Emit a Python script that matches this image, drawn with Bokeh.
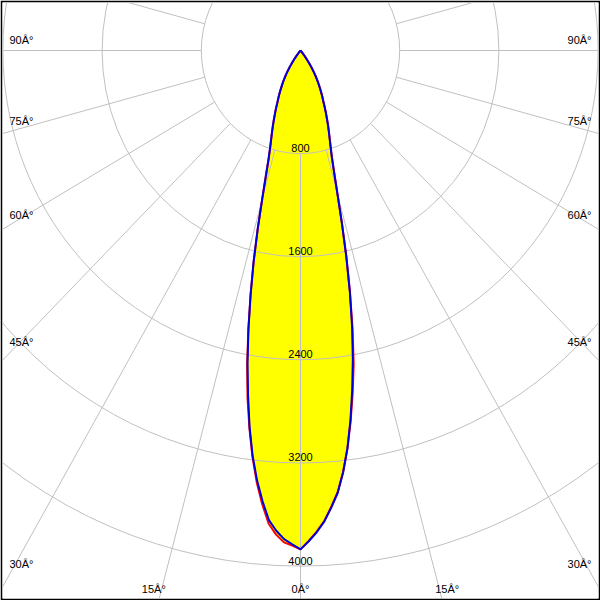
import numpy as np
from bokeh.plotting import figure
from bokeh.models import Range1d
from bokeh.core.properties import value
from bokeh.embed import file_html
from bokeh.resources import INLINE

# ---- data (luminous intensity in cd vs. gamma angle in degrees) ----
gamma = [0, 1, 2, 3, 4, 5, 6, 7, 8, 9, 10, 11, 12, 13, 14, 15, 16, 17, 18, 19,
         20, 21, 22, 23, 24, 25, 26, 27, 28, 29, 30, 31, 32, 33, 34, 35, 36,
         37, 38, 39, 40, 42, 45, 50, 60, 70, 80, 90]
blue_right = [3870, 3808, 3740, 3660, 3555, 3444, 3290, 3108, 2895, 2665, 2430,
              2180, 1915, 1645, 1380, 1150, 985, 865, 785, 722,
              668, 618, 568, 522, 478, 436, 404, 370, 338, 308, 278, 248, 218,
              188, 158, 128, 100, 75, 52, 32, 16, 4, 0, 0, 0, 0, 0, 0]
blue_left = [3870, 3831, 3793, 3731, 3652, 3511, 3353, 3168, 2950, 2705, 2460,
             2200, 1935, 1680, 1425, 1195, 1015, 880, 792, 726,
             670, 619, 569, 523, 479, 437, 405, 371, 339, 309, 279, 249, 219,
             189, 159, 129, 101, 76, 53, 33, 17, 4, 0, 0, 0, 0, 0, 0]
red_right = [3870, 3805, 3735, 3655, 3550, 3440, 3288, 3108, 2905, 2690, 2470,
             2200, 1920, 1645, 1380, 1150, 986, 866, 786, 723,
             669, 619, 569, 523, 479, 437, 405, 371, 339, 309, 279, 249, 219,
             189, 159, 129, 101, 76, 53, 33, 17, 4, 0, 0, 0, 0, 0, 0]
red_left = [3870, 3841, 3818, 3761, 3680, 3536, 3371, 3178, 2960, 2730, 2480,
            2205, 1937, 1680, 1425, 1195, 1015, 880, 792, 726,
            670, 619, 569, 523, 479, 437, 405, 371, 339, 309, 279, 249, 219,
            189, 159, 129, 101, 76, 53, 33, 17, 4, 0, 0, 0, 0, 0, 0]

ring_values = [800, 1600, 2400, 3200, 4000]
ring_labels = ["800", "1600", "2400", "3200", "4000"]
spoke_angles = [0, 15, 30, 45, 60, 75, 90, 105, 120, 135, 150, 165, 180]
side_label_angles = [90, 75, 60, 45, 30]
side_labels = ["90Â°", "75Â°", "60Â°", "45Â°", "30Â°"]
bottom_label_angles = [-15, 0, 15]
bottom_labels = ["15Â°", "0Â°", "15Â°"]

# ---- layout (reference pixel scale: px per cd, centre of diagram) ----
SX = 0.1240
SY = 0.1289
CX, CY = 300.0, 50.0


def data_x(px):
    return (px - CX) / SX


def data_y(py):
    return -(py - CY) / SY


p = figure(width=600, height=600,
           x_range=Range1d(data_x(2), data_x(598)),
           y_range=Range1d(data_y(598), data_y(2)),
           output_backend="svg", toolbar_location=None,
           x_axis_location=None, y_axis_location=None,
           min_border=2, border_fill_color="black",
           background_fill_color="white", outline_line_color=None)
p.grid.visible = False


def curve(left, right):
    g = np.radians(np.array(gamma, dtype=float))
    L = np.array(left, dtype=float)
    R = np.array(right, dtype=float)
    xl = -L * np.sin(g)
    yl = -L * np.cos(g)
    xr = R * np.sin(g)
    yr = -R * np.cos(g)
    xs = np.concatenate([xl[::-1], xr[1:]])
    ys = np.concatenate([yl[::-1], yr[1:]])
    return xs, ys


bx, by = curve(blue_left, blue_right)
rx, ry = curve(red_left, red_right)

# yellow fill
p.patch(rx, ry, fill_color="#ffff00", line_color=None)
p.patch(bx, by, fill_color="#ffff00", line_color=None)

grid_col = "#c0c0c0"
# rings
p.ellipse(x=[0] * len(ring_values), y=[0] * len(ring_values),
          width=[2 * r for r in ring_values], height=[2 * r for r in ring_values],
          fill_color=None, line_color=grid_col, line_width=1)

# spokes (starting at the first ring)
r0 = ring_values[0]
r1 = 8000
sxs, sys_ = [], []
for a in spoke_angles:
    for s in ([1, -1] if a not in (0, 180) else [1]):
        t = np.radians(a)
        sxs.append([s * r0 * np.sin(t), s * r1 * np.sin(t)])
        sys_.append([-r0 * np.cos(t), -r1 * np.cos(t)])
p.multi_line(sxs, sys_, line_color=grid_col, line_width=1)

# intensity curves
p.line(rx, ry, line_color="#ff0000", line_width=2)
p.line(bx, by, line_color="#0000dd", line_width=2)

font = value("Liberation Sans")
fsize = "11px"

# ring labels
p.text(x=[0] * len(ring_values), y=[-r + 5.5 / SY for r in ring_values],
       text=ring_labels, text_font=font, text_font_size=fsize,
       text_align="center", text_baseline="alphabetic", text_color="black")

# side labels: placed just above where the spoke crosses the edge strip
lx = data_x(9)
ly = []
for a in side_label_angles:
    depth = 0.0 if a == 90 else abs(lx) / np.tan(np.radians(a))
    ly.append(-depth + 10.5 / SY)
p.text(x=[lx] * len(ly), y=ly, text=side_labels, text_font=font,
       text_font_size=fsize, text_align="left", text_baseline="alphabetic",
       text_color="black")
rxl = data_x(591)
p.text(x=[rxl] * len(ly), y=ly, text=side_labels, text_font=font,
       text_font_size=fsize, text_align="right", text_baseline="alphabetic",
       text_color="black")

# bottom labels
by_ = data_y(588)
bxs = []
for a in bottom_label_angles:
    xx = abs(by_) * np.tan(np.radians(a))
    off = 0 if a == 0 else np.sign(a) * 8 / SX
    bxs.append(xx + off)
p.text(x=bxs, y=[by_] * len(bxs), text=bottom_labels, text_font=font,
       text_font_size=fsize, text_align="center", text_baseline="alphabetic",
       text_color="black")

open("out.html", "w").write(file_html(p, INLINE))
